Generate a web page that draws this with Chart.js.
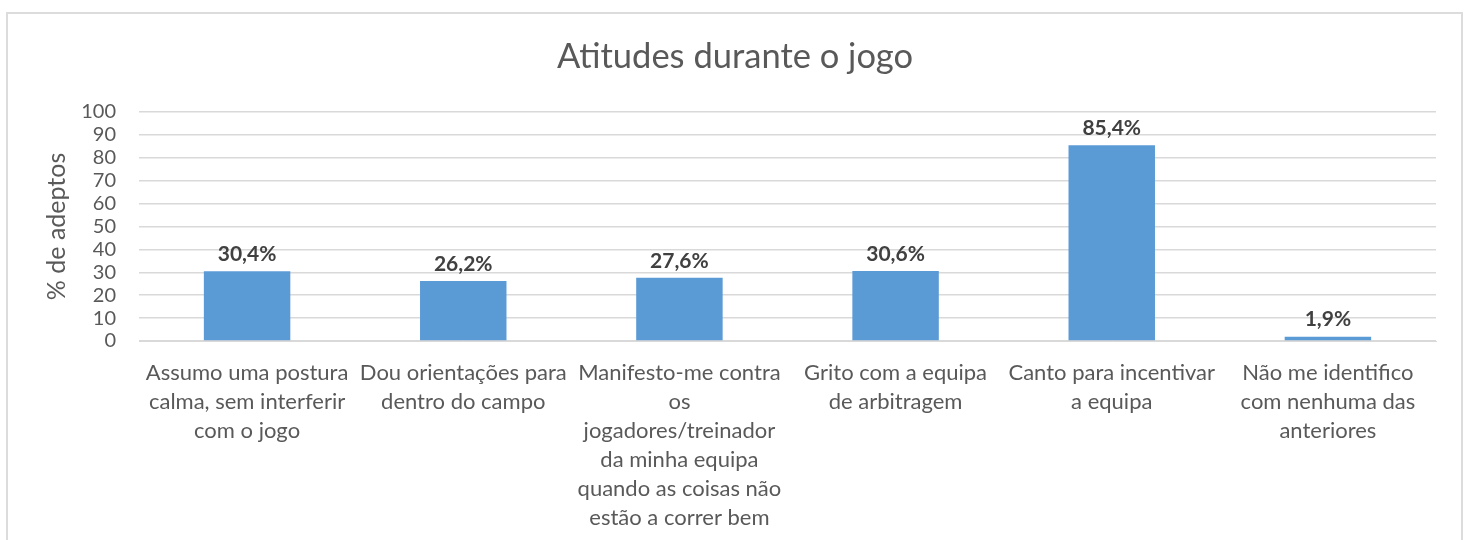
<!DOCTYPE html>
<html>
<head>
<meta charset="utf-8">
<script src="https://cdn.jsdelivr.net/npm/chart.js@4.4.1/dist/chart.umd.min.js"></script>
<style>
  html, body { margin: 0; padding: 0; background: #fff; overflow: hidden; }
  #moldura { position: absolute; left: 6px; top: 12px; width: 1457px; height: 560px; border: 2px solid #dcdcdc; box-sizing: border-box; }
  #wrap { position: absolute; left: 0; top: 0; width: 1470px; height: 540px; }
</style>
</head>
<body>
<div id="moldura"></div>
<div id="wrap"><canvas id="chartAtitudes" width="1470" height="540"></canvas></div>
<script>
// --- Dados ---
const categorias = [
  ['Assumo uma postura', 'calma, sem interferir', 'com o jogo'],
  ['Dou orientações para', 'dentro do campo'],
  ['Manifesto-me contra', 'os', 'jogadores/treinador', 'da minha equipa', 'quando as coisas não', 'estão a correr bem'],
  ['Grito com a equipa', 'de arbitragem'],
  ['Canto para incentivar', 'a equipa'],
  ['Não me identifico', 'com nenhuma das', 'anteriores']
];
const percentagens = [30.4, 26.2, 27.6, 30.6, 85.4, 1.9];
const ticksY = [0, 10, 20, 30, 40, 50, 60, 70, 80, 90, 100];

const corTexto = '#595959';
const fonte = 'Lato, "Open Sans", sans-serif';

// rotulos por cima das barras (estilo Excel)
const rotulosBarras = {
  id: 'rotulosBarras',
  afterDatasetsDraw(chart){
    const ctx = chart.ctx;
    const meta = chart.getDatasetMeta(0);
    ctx.save();
    ctx.font = 'bold 21px ' + fonte;
    ctx.fillStyle = '#404040';
    ctx.textAlign = 'center';
    ctx.textBaseline = 'middle';
    meta.data.forEach((bar, i) => {
      const txt = percentagens[i].toFixed(1).replace('.', ',') + '%';
      ctx.fillText(txt, bar.x, bar.y - 17);
    });
    ctx.restore();
  }
};

new Chart(document.getElementById('chartAtitudes'), {
  type: 'bar',
  data: {
    labels: categorias,
    datasets: [{
      label: '% de adeptos',
      data: percentagens,
      backgroundColor: '#5B9BD5',
      borderWidth: 0,
      barPercentage: 0.4,
      categoryPercentage: 1
    }]
  },
  options: {
    responsive: false,
    animation: false,
    // padding simetrico para o titulo ficar centrado na moldura
    layout: { padding: { left: 34, right: 34, top: 0, bottom: 0 } },
    plugins: {
      legend: { display: false },
      tooltip: { enabled: false },
      title: {
        display: true,
        text: 'Atitudes durante o jogo',
        color: corTexto,
        font: { family: fonte, size: 34.5, weight: 'normal', lineHeight: 1.2 },
        padding: { top: 36, bottom: 34.5 }
      }
    },
    scales: {
      x: {
        grid: { display: false, drawTicks: false },
        border: { display: true, color: '#d9d9d9', width: 1 },
        ticks: {
          color: corTexto,
          font: { family: fonte, size: 22, lineHeight: 1.32 },
          padding: 17.5,
          maxRotation: 0,
          minRotation: 0,
          autoSkip: false
        },
        afterFit: s => { s.height = 199; }
      },
      y: {
        min: 0,
        max: 100,
        afterBuildTicks: s => { s.ticks = ticksY.map(v => ({ value: v })); },
        grid: { color: '#d9d9d9', lineWidth: 1.5, drawTicks: false },
        border: { display: false },
        ticks: {
          color: corTexto,
          font: { family: fonte, size: 20 },
          padding: 23,
          autoSkip: false
        },
        title: {
          display: true,
          text: '% de adeptos',
          color: corTexto,
          font: { family: fonte, size: 25, weight: 'normal', lineHeight: 1.2 },
          padding: { top: 8, bottom: 0 }
        },
        afterFit: s => { s.width = 105; }
      }
    }
  },
  plugins: [rotulosBarras]
});
</script>
</body>
</html>
